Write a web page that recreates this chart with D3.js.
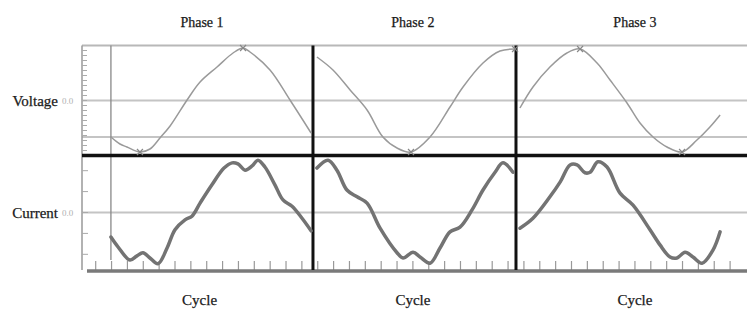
<!DOCTYPE html>
<html lang="en">
<head>
<meta charset="UTF-8">
<title>Voltage and Current by Phase</title>
<script src="https://d3js.org/d3.v7.min.js"></script>
<style>
  body { margin: 0; background: #fff; }
  svg { display: block; }
  text { font-family: "Liberation Serif", "DejaVu Serif", serif; fill: #1a1a1a; }
</style>
</head>
<body>
<svg id="chart" width="747" height="309"></svg>
<script>
  // ---- data (x in cycle ticks, y in normalised units) ----
  const phases = ["Phase 1", "Phase 2", "Phase 3"];
  const phaseStart = [1.96, 14.7, 27.5];
  const phaseLabelAt = [7.7, 21.0, 35.0];
  const cycleLabelAt = [7.55, 21.0, 35.0];

  const voltX = [
    [1.96, 2.53, 2.97, 3.79, 4.42, 5.05, 5.69, 6.76, 7.58, 8.65, 9.66, 10.29, 10.73, 11.99, 13.25, 14.58],
    [14.95, 15.96, 17.04, 18.11, 19.11, 20.0, 20.88, 22.08, 23.34, 24.16, 25.42, 26.49, 27.44],
    [27.75, 28.57, 29.64, 30.71, 31.54, 32.61, 33.43, 34.5, 35.32, 36.14, 37.02, 37.97, 38.91, 39.73, 40.37]
  ];
  const voltY = [
    [-0.73, -0.87, -0.93, -1.03, -0.97, -0.75, -0.51, 0.01, 0.37, 0.67, 0.95, 1.05, 0.97, 0.61, 0.01, -0.65],
    [0.87, 0.61, 0.21, -0.19, -0.73, -0.95, -1.03, -0.73, -0.13, 0.27, 0.75, 0.99, 1.03],
    [-0.15, 0.27, 0.67, 0.95, 1.03, 0.75, 0.41, -0.05, -0.45, -0.73, -0.93, -1.03, -0.79, -0.53, -0.29]
  ];
  const voltPeaks = [[3.79, -1.03], [10.29, 1.05], [20.88, -1.03], [27.44, 1.03], [31.54, 1.03], [37.97, -1.03]];

  const currX = [
    [1.96, 2.41, 3.16, 3.6, 3.98, 4.42, 4.93, 5.5, 6.0, 6.63, 7.07, 7.58, 8.33, 9.09, 9.6, 9.97, 10.42, 10.86, 11.23, 11.67, 12.3, 12.81, 13.38, 14.01, 14.58],
    [14.95, 15.65, 16.21, 16.84, 17.48, 18.11, 18.93, 20.0, 20.38, 21.01, 21.45, 22.08, 22.71, 23.34, 23.97, 24.73, 25.42, 26.18, 26.68, 27.31],
    [27.75, 28.57, 29.64, 30.28, 30.91, 31.35, 31.85, 32.17, 32.67, 33.24, 34.06, 34.88, 35.95, 36.58, 37.21, 37.65, 38.16, 38.66, 39.23, 39.92, 40.37]
  ];
  const currY = [
    [-0.47, -0.66, -0.91, -0.83, -0.77, -0.87, -0.98, -0.68, -0.33, -0.14, -0.07, 0.18, 0.53, 0.85, 0.95, 0.93, 0.81, 0.89, 1.0, 0.87, 0.53, 0.24, 0.12, -0.11, -0.35],
    [0.85, 1.0, 0.81, 0.43, 0.3, 0.18, -0.3, -0.77, -0.87, -0.76, -0.85, -0.97, -0.68, -0.37, -0.28, 0.05, 0.43, 0.77, 0.95, 0.77],
    [-0.3, -0.11, 0.3, 0.58, 0.91, 0.91, 0.76, 0.77, 0.97, 0.87, 0.37, 0.14, -0.33, -0.62, -0.85, -0.87, -0.76, -0.85, -0.97, -0.72, -0.37]
  ];

  const voltGrid = [0, -0.73];
  const currGrid = [0];
  const voltTicks = d3.range(-10, 11).map(d => d / 10);
  const currTicks = [-0.8, -0.4, 0, 0.4, 0.8];
  const cycleTicks = d3.range(1, 42);

  // ---- scales ----
  const svg = d3.select("#chart");
  const x = d3.scaleLinear().domain([0, 42]).range([79.84, 745.96]);
  const yV = d3.scaleLinear().domain([-1.1, 1.1]).range([155.5, 45.5]);
  const yI = d3.scaleLinear().domain([-1.1, 1.1]).range([270, 155]);
  const xLeft = 82, xRight = 747;

  // grid lines
  svg.append("line").attr("x1", xLeft).attr("x2", xRight)
    .attr("y1", yV(1.1)).attr("y2", yV(1.1))
    .attr("stroke", "#b8b8b8").attr("stroke-width", 2);
  svg.selectAll(".vgrid").data(voltGrid).enter().append("line")
    .attr("x1", xLeft).attr("x2", xRight)
    .attr("y1", d => yV(d)).attr("y2", d => yV(d))
    .attr("stroke", "#c4c4c4").attr("stroke-width", 2);
  svg.selectAll(".igrid").data(currGrid).enter().append("line")
    .attr("x1", xLeft).attr("x2", xRight)
    .attr("y1", d => yI(d)).attr("y2", d => yI(d))
    .attr("stroke", "#c4c4c4").attr("stroke-width", 2);

  // left axis + ticks
  svg.append("line").attr("x1", xLeft).attr("x2", xLeft)
    .attr("y1", yV(1.1)).attr("y2", yI(-1.1))
    .attr("stroke", "#999").attr("stroke-width", 1.5);
  svg.selectAll(".vt").data(voltTicks).enter().append("line")
    .attr("x1", xLeft).attr("x2", xLeft + 5)
    .attr("y1", d => yV(d)).attr("y2", d => yV(d))
    .attr("stroke", "#aaa").attr("stroke-width", 1);
  svg.selectAll(".it").data(currTicks).enter().append("line")
    .attr("x1", xLeft).attr("x2", xLeft + 6)
    .attr("y1", d => yI(d)).attr("y2", d => yI(d))
    .attr("stroke", "#aaa").attr("stroke-width", 1);

  // bottom axis + ticks
  svg.selectAll(".ct").data(cycleTicks).enter().append("line")
    .attr("x1", d => x(d)).attr("x2", d => x(d))
    .attr("y1", yI(-1.1) - 9).attr("y2", yI(-1.1))
    .attr("stroke", "#999").attr("stroke-width", 1.2);
  svg.append("line").attr("x1", xLeft + 5).attr("x2", xRight)
    .attr("y1", yI(-1.1) + 1).attr("y2", yI(-1.1) + 1)
    .attr("stroke", "#7a7a7a").attr("stroke-width", 3.5);

  // first phase start (thin) and separators (thick)
  svg.append("line").attr("x1", x(phaseStart[0])).attr("x2", x(phaseStart[0]))
    .attr("y1", yV(1.1)).attr("y2", yI(-1.1) - 10)
    .attr("stroke", "#888").attr("stroke-width", 1.3);
  svg.selectAll(".sep").data(phaseStart.slice(1)).enter().append("line")
    .attr("x1", d => x(d)).attr("x2", d => x(d))
    .attr("y1", yV(1.1)).attr("y2", yI(-1.1))
    .attr("stroke", "#111").attr("stroke-width", 3);

  // voltage / current divider
  svg.append("line").attr("x1", xLeft).attr("x2", xRight)
    .attr("y1", yV(-1.1)).attr("y2", yV(-1.1))
    .attr("stroke", "#111").attr("stroke-width", 3.5);

  // curves
  const lineV = d3.line().x(d => x(d[0])).y(d => yV(d[1])).curve(d3.curveCatmullRom.alpha(0.5));
  const lineI = d3.line().x(d => x(d[0])).y(d => yI(d[1])).curve(d3.curveCatmullRom.alpha(0.5));

  voltX.forEach((xs, p) => {
    svg.append("path")
      .datum(xs.map((v, i) => [v, voltY[p][i]]))
      .attr("d", lineV)
      .attr("fill", "none").attr("stroke", "#9a9a9a").attr("stroke-width", 1.5);
  });
  currX.forEach((xs, p) => {
    svg.append("path")
      .datum(xs.map((v, i) => [v, currY[p][i]]))
      .attr("d", lineI)
      .attr("fill", "none").attr("stroke", "#737373").attr("stroke-width", 3.5)
      .attr("stroke-linejoin", "round").attr("stroke-linecap", "round");
  });

  // x markers on voltage extremes
  svg.selectAll(".mk").data(voltPeaks).enter().append("path")
    .attr("d", d => {
      const cx = x(d[0]), cy = yV(d[1]), r = 3;
      return `M${cx - r},${cy - r}L${cx + r},${cy + r}M${cx - r},${cy + r}L${cx + r},${cy - r}`;
    })
    .attr("stroke", "#888").attr("stroke-width", 1.2);

  // labels
  svg.selectAll(".ph").data(phases).enter().append("text")
    .attr("x", (d, i) => x(phaseLabelAt[i])).attr("y", 27)
    .attr("text-anchor", "middle").attr("font-size", 14)
    .attr("stroke", "#1a1a1a").attr("stroke-width", 0.25).text(d => d);
  svg.selectAll(".cy").data(cycleLabelAt).enter().append("text")
    .attr("x", d => x(d)).attr("y", 305)
    .attr("text-anchor", "middle").attr("font-size", 15)
    .attr("stroke", "#1a1a1a").attr("stroke-width", 0.25).text("Cycle");

  const rowLabels = [["Voltage", yV(0)], ["Current", yI(0)]];
  rowLabels.forEach(([name, yy]) => {
    svg.append("text").attr("x", 58).attr("y", yy + 5)
      .attr("text-anchor", "end").attr("font-size", 15)
      .attr("stroke", "#1a1a1a").attr("stroke-width", 0.25).text(name);
    svg.append("text").attr("x", 62).attr("y", yy + 3)
      .attr("font-size", 9).style("fill", "#b0b0b0").text("0.0");
  });
</script>
</body>
</html>
